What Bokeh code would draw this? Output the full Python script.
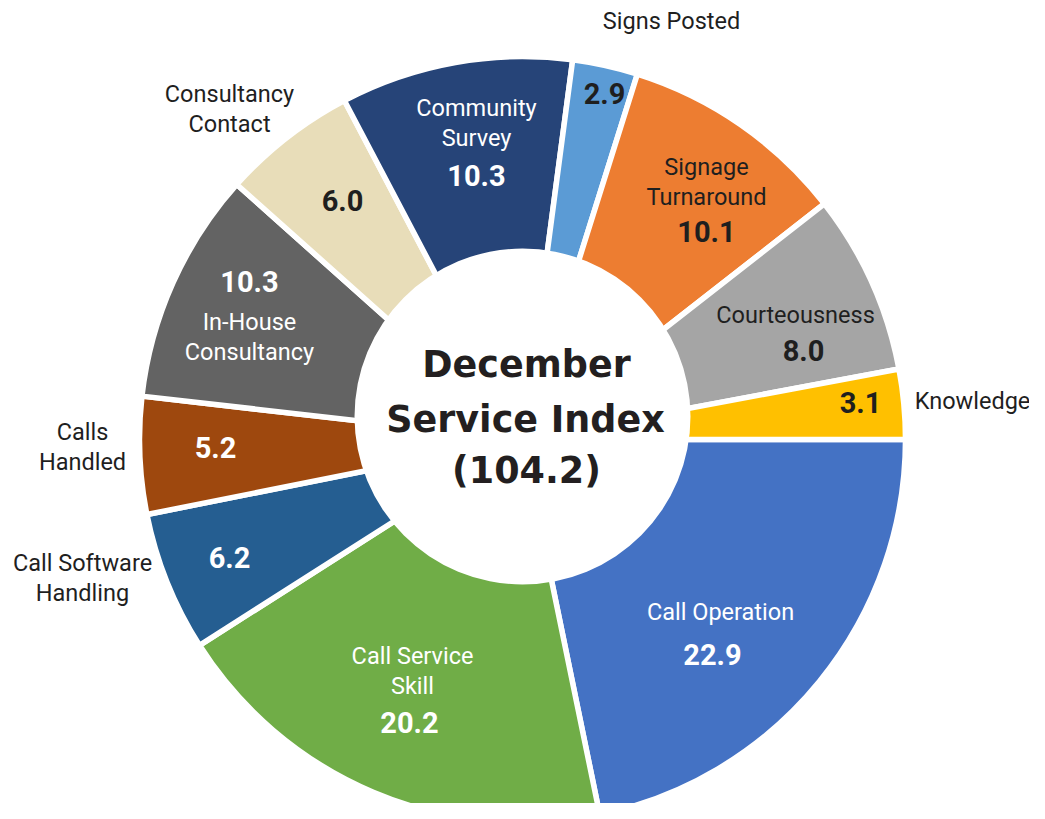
import math
from bokeh.plotting import figure
from bokeh.models import Range1d, ColumnDataSource
from bokeh.core.properties import value
from bokeh.embed import file_html
from bokeh.resources import INLINE

# ---------------- data ----------------
categories = ["Call Operation", "Call Service Skill", "Call Software Handling",
              "Calls Handled", "In-House Consultancy", "Consultancy Contact",
              "Community Survey", "Signs Posted", "Signage Turnaround",
              "Courteousness", "Knowledge"]
values = [22.9, 20.2, 6.2, 5.2, 10.3, 6.0, 10.3, 2.9, 10.1, 8.0, 3.1]
label_lines = [["Call Operation"], ["Call Service", "Skill"], ["Call Software", "Handling"],
               ["Calls", "Handled"], ["In-House", "Consultancy"], ["Consultancy", "Contact"],
               ["Community", "Survey"], ["Signs Posted"], ["Signage", "Turnaround"],
               ["Courteousness"], ["Knowledge"]]
title_lines = ["December", "Service Index"]
index_total = 104.2

# ---------------- styles / layout ----------------
colors = ["#4472C4", "#70AD47", "#255E91", "#9E480E", "#636363", "#E8DDB9",
          "#264478", "#5B9BD5", "#ED7D31", "#A5A5A5", "#FFC000"]
DARK = "#1f1f1f"
WHITE = "#ffffff"
name_colors = [WHITE, WHITE, DARK, DARK, WHITE, DARK, WHITE, DARK, DARK, DARK, DARK]
num_colors = [WHITE, WHITE, WHITE, WHITE, WHITE, DARK, WHITE, DARK, DARK, DARK, DARK]
# label anchors in picture pixels: (name x, first name baseline, number x, number baseline)
label_layout = [(720, 619, 712, 663), (412, 663, 409, 731), (82, 570, 229, 566),
                (82, 439, 215, 456), (249, 329, 249, 290), (229, 101, 342, 209),
                (476, 115, 476, 184), (671, 28, 604, 102), (706, 174, 706, 240),
                (795, 322, 803, 359), (972, 408, 860, 411)]
LINE_GAP = 30
NAME_FS, NUM_FS, TITLE_FS = 23.5, 29, 36.5
BASE_FIX = 0.3  # em; compensates where the renderer puts the alphabetic baseline

W, H = 1029, 803
CX, CY, R = 522, 439, 383
HOLE_X, HOLE_Y, HOLE_R = 522, 416, 168

p = figure(width=W, height=H, x_range=Range1d(0, W), y_range=Range1d(-H, 0),
           output_backend="svg", toolbar_location=None, min_border=0,
           x_axis_location=None, y_axis_location=None)
p.xgrid.visible = False
p.ygrid.visible = False
p.outline_line_color = None
p.background_fill_color = "white"
p.border_fill_color = "white"

total = sum(values)
starts, ends = [], []
cum = 0.0
for v in values:
    starts.append(-cum / total * 2 * math.pi)
    cum += v
    ends.append(-cum / total * 2 * math.pi)

src = ColumnDataSource(dict(cat=categories, val=values, start=starts, end=ends, color=colors))
p.wedge(x=CX, y=-CY, radius=R, start_angle="start", end_angle="end", direction="clock",
        fill_color="color", line_color="white", line_width=5.5, source=src)
p.circle(x=[HOLE_X], y=[-HOLE_Y], radius=HOLE_R, fill_color="white", line_color=None)

nx, ny, nt, nc = [], [], [], []
vx, vy, vt, vc = [], [], [], []
for i, lines in enumerate(label_lines):
    lx, lb, ux, ub = label_layout[i]
    for j, ln in enumerate(lines):
        nx.append(lx); ny.append(-(lb + j * LINE_GAP - BASE_FIX * NAME_FS))
        nt.append(ln); nc.append(name_colors[i])
    vx.append(ux); vy.append(-(ub - BASE_FIX * NUM_FS))
    vt.append(f"{values[i]:.1f}"); vc.append(num_colors[i])

p.text(x=nx, y=ny, text=nt, text_color=nc, text_font=value("Roboto"),
       text_font_size=f"{NAME_FS}px", text_align="center", text_baseline="alphabetic")
p.text(x=vx, y=vy, text=vt, text_color=vc, text_font=value("Roboto"),
       text_font_size=f"{NUM_FS}px", text_font_style="bold",
       text_align="center", text_baseline="alphabetic")

tl = title_lines + [f"({index_total})"]
tb = [375, 430, 481]
p.text(x=[526, 525, 526], y=[-(b - BASE_FIX * TITLE_FS) for b in tb], text=tl,
       text_color="#231f20", text_font=value("DejaVu Sans"), text_font_size=f"{TITLE_FS}px",
       text_font_style="bold", text_align="center", text_baseline="alphabetic")

open("out.html", "w").write(file_html(p, INLINE))
